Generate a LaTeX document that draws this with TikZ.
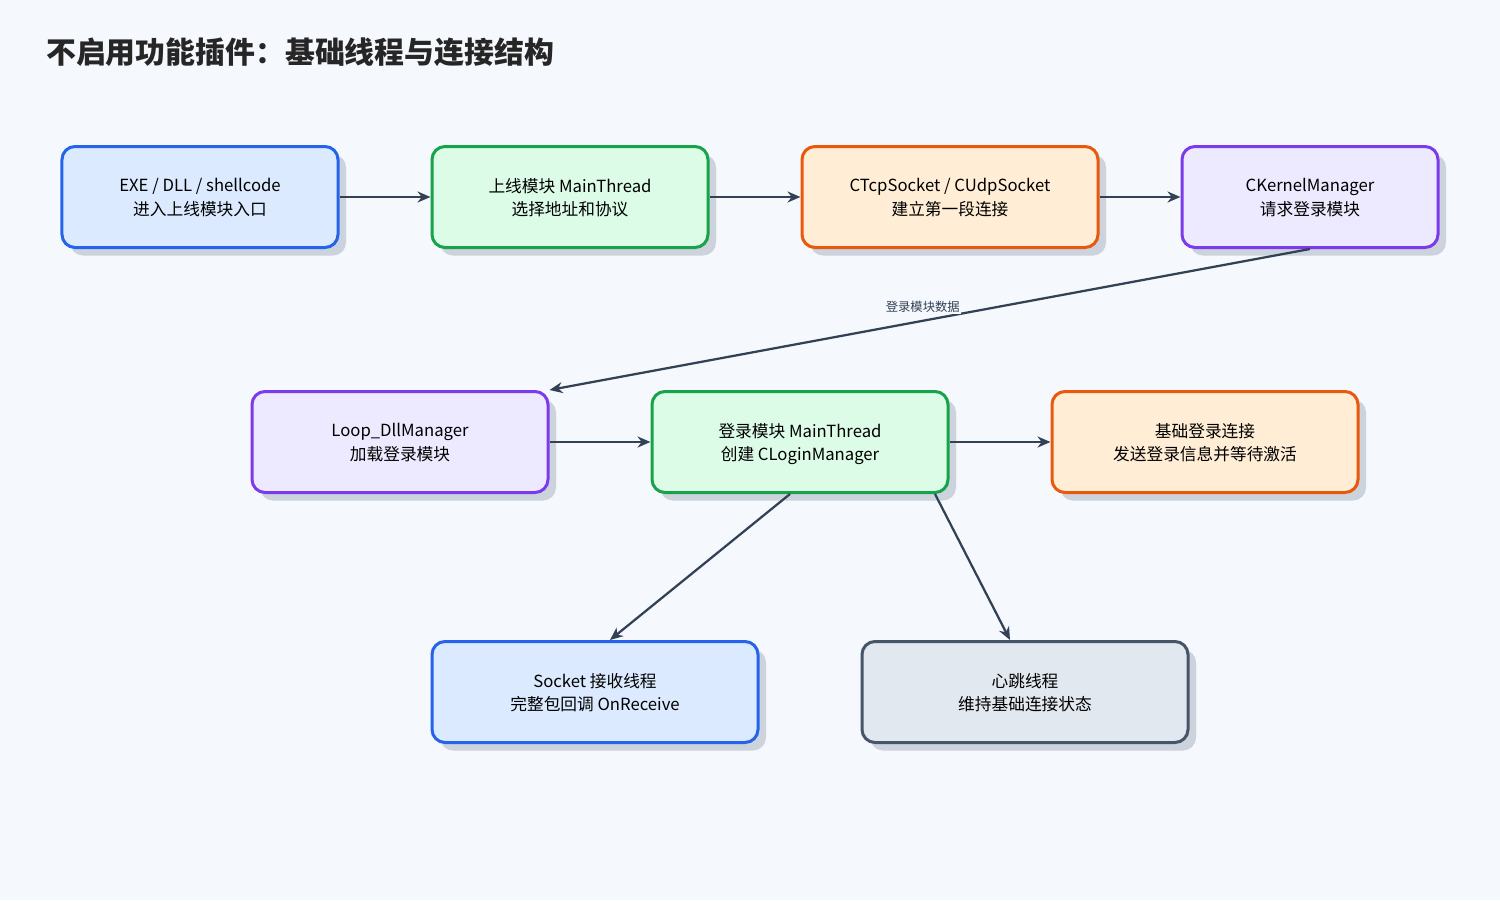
\documentclass[tikz,border=0pt]{standalone}
\usepackage{fontspec}
\setmainfont{Noto Sans CJK SC}
\usetikzlibrary{arrows.meta}
\usetikzlibrary{shadows}
\definecolor{bgcol}{HTML}{F5F8FC}
\definecolor{linecol}{HTML}{334155}
\definecolor{shadecol}{HTML}{CDD3DC}
\definecolor{blueline}{HTML}{2563EB}\definecolor{bluefill}{HTML}{DBEAFE}
\definecolor{greenline}{HTML}{16A34A}\definecolor{greenfill}{HTML}{DCFCE7}
\definecolor{orangeline}{HTML}{EA580C}\definecolor{orangefill}{HTML}{FFEDD5}
\definecolor{purpleline}{HTML}{7C3AED}\definecolor{purplefill}{HTML}{EDE9FE}
\definecolor{grayline}{HTML}{475569}\definecolor{grayfill}{HTML}{E2E8F0}
\tikzset{
  box/.style={draw=#1line,fill=#1fill,line width=0.6mm,rounded corners=2.6mm,
    minimum height=20.2mm,align=center,font=\fontsize{9.5}{13.5}\selectfont,text depth=-2pt,
    drop shadow={shadow xshift=1.6mm,shadow yshift=-1.6mm,fill=shadecol,opacity=1}},
  flow/.style={draw=linecol,line width=0.45mm,-{Stealth[length=2.6mm,width=2.2mm]}}
}
\begin{document}
\begin{tikzpicture}[x=0.2mm,y=-0.2mm]
\fill[bgcol] (0,0) rectangle (1500,900);
\useasboundingbox (0,0) rectangle (1500,900);
\node[anchor=west,font=\fontsize{17}{20}\selectfont\bfseries,text=black!85] (title) at (40,52) {不启用功能插件：基础线程与连接结构};
% first row
\node[box=blue,minimum width=55.2mm] (entry) at (200,197) {EXE / DLL / shellcode\\进入上线模块入口};
\node[box=green,minimum width=55.2mm] (online) at (570,197) {上线模块 MainThread\\选择地址和协议};
\node[box=orange,minimum width=59.2mm] (sock) at (950,197) {CTcpSocket / CUdpSocket\\建立第一段连接};
\node[box=purple,minimum width=51.2mm] (kernel) at (1310,197) {CKernelManager\\请求登录模块};
% second row
\node[box=purple,minimum width=59.2mm] (loop) at (400,442) {Loop\_DllManager\\加载登录模块};
\node[box=green,minimum width=59.2mm] (login) at (800,442) {登录模块 MainThread\\创建 CLoginManager};
\node[box=orange,minimum width=61.2mm] (basic) at (1205,442) {基础登录连接\\发送登录信息并等待激活};
% third row
\node[box=blue,minimum width=65.2mm] (recv) at (595,692) {Socket 接收线程\\完整包回调 OnReceive};
\node[box=gray,minimum width=65.2mm] (heart) at (1025,692) {心跳线程\\维持基础连接状态};
\draw[flow] (entry) -- (online);
\draw[flow] (online) -- (sock);
\draw[flow] (sock) -- (kernel);
\draw[flow] (kernel.south) -- node[pos=0.5,fill=bgcol,inner sep=1pt,xshift=-1.4mm,yshift=2.6mm,font=\fontsize{7}{8}\selectfont,text=linecol]{登录模块数据} (loop.north east);
\draw[flow] (loop) -- (login);
\draw[flow] (login) -- (basic);
\draw[flow] (login.south) ++(-10,0) coordinate (ls) (ls) -- (610,640);
\draw[flow] (935,494) coordinate (rs) (rs) -- (1010,640);
\end{tikzpicture}
\end{document}
